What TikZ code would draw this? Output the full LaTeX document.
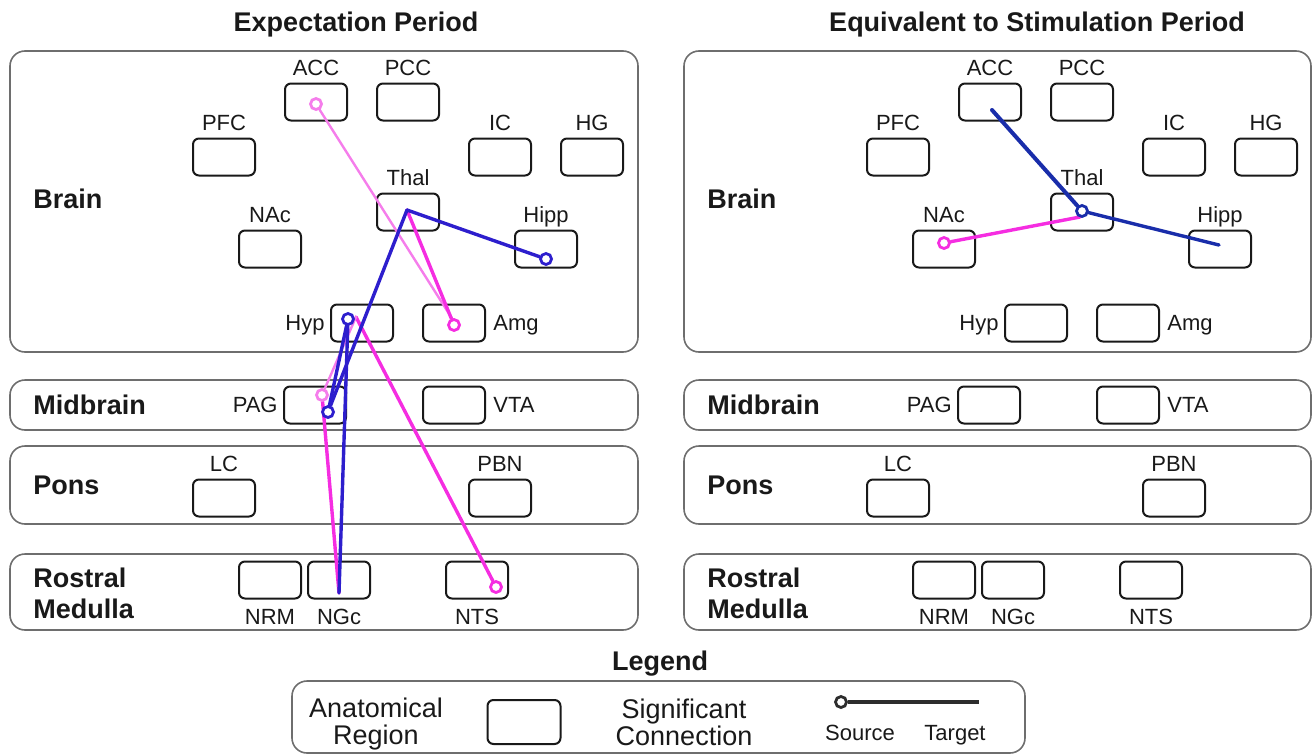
\documentclass[tikz,border=0pt]{standalone}
\usepackage{fontspec}
\setmainfont{Liberation Sans}
\definecolor{txt}{RGB}{25,25,25}
\definecolor{framegray}{RGB}{110,110,110}
\definecolor{conblue}{RGB}{45,30,205}
\definecolor{condark}{RGB}{25,45,170}
\definecolor{conmag}{RGB}{245,45,225}
\definecolor{conpink}{RGB}{245,125,235}
\definecolor{legline}{RGB}{45,45,45}
\pgfdeclarelayer{front}
\pgfsetlayers{main,front}
\tikzset{
  panel/.style={draw=framegray, line width=0.8pt, rounded corners=7.5pt},
  region/.style={draw=txt, line width=1pt, rounded corners=3pt, minimum width=31pt, minimum height=18.5pt, inner sep=0pt},
  lbl/.style={font=\fontsize{11}{13}\selectfont, inner sep=0pt, text height=7.9pt, text depth=0pt, text=txt},
  tagabove/.style={label={[lbl, yshift=3.5pt]above:#1}},
  tagbelow/.style={label={[lbl, yshift=-4.5pt]below:#1}},
  tagleft/.style={label={[lbl, xshift=-2.5pt]left:#1}},
  tagright/.style={label={[lbl, xshift=3.5pt]right:#1}},
  ttl/.style={font=\fontsize{13.5}{16}\selectfont\bfseries, inner sep=0pt, text height=9.7pt, text depth=0pt, text=txt},
  hdr/.style={ttl, anchor=west},
  hdrtwo/.style={font=\fontsize{13.5}{15.5}\selectfont\bfseries, inner sep=0pt, anchor=west, align=left, text=txt},
  legtxt/.style={font=\fontsize{13.5}{13.5}\selectfont, inner sep=0pt, align=center, text=txt},
  src/.style={circle, draw=#1, fill=white, line width=1.4pt, minimum size=5.5pt, inner sep=0pt},
  con/.style={line width=1.7pt, line cap=round},
  conlight/.style={line width=1.2pt, line cap=round}
}
\begin{document}
\begin{tikzpicture}[x=0.5pt,y=-0.5pt]
    \useasboundingbox (0,0) rectangle (1312,755);

    % titles
    \node[ttl] (eTitle) at (356,22) {Expectation Period};
    \node[ttl] (sTitle) at (1037,22) {Equivalent to Stimulation Period};

    % expectation period
    \draw[panel] (10,51) rectangle (638,352);
    \draw[panel] (10,380) rectangle (638,430);
    \draw[panel] (10,446) rectangle (638,524);
    \draw[panel] (10,554) rectangle (638,630);
    \node[hdr] (eBrain) at (33,199) {Brain};
    \node[hdr] (eMid) at (33,405) {Midbrain};
    \node[hdr] (ePons) at (33,485) {Pons};
    \node[hdrtwo] (eMed) at (33,593) {Rostral\\Medulla};

    \node[region, tagabove=ACC] (eACC) at (316,102) {};
    \node[region, tagabove=PCC] (ePCC) at (408,102) {};
    \node[region, tagabove=PFC] (ePFC) at (224,157) {};
    \node[region, tagabove=IC] (eIC) at (500,157) {};
    \node[region, tagabove=HG] (eHG) at (592,157) {};
    \node[region, tagabove=Thal] (eThal) at (408,212) {};
    \node[region, tagabove=NAc] (eNAc) at (270,249) {};
    \node[region, tagabove=Hipp] (eHipp) at (546,249) {};
    \node[region, tagleft=Hyp] (eHyp) at (362,323) {};
    \node[region, tagright=Amg] (eAmg) at (454,323) {};
    \node[region, tagleft=PAG] (ePAG) at (315,405) {};
    \node[region, tagright=VTA] (eVTA) at (454,405) {};
    \node[region, tagabove=LC] (eLC) at (224,498) {};
    \node[region, tagabove=PBN] (ePBN) at (500,498) {};
    \node[region, tagbelow=NRM] (eNRM) at (270,580) {};
    \node[region, tagbelow=NGc] (eNGc) at (339,580) {};
    \node[region, tagbelow=NTS] (eNTS) at (477,580) {};

    \coordinate (eThalT) at (407,210);
    \coordinate (eAmgT) at (453,320);
    \coordinate (eHypT) at (356,317);
    \coordinate (eNGcT) at (339,593);
    \begin{pgfonlayer}{front}
    \node[src=conpink] (eACCs) at (316,104) {};
    \node[src=conmag] (eAmgs) at (454,325) {};
    \node[src=conblue] (eHipps) at (546,259) {};
    \node[src=conblue] (eHyps) at (348,319) {};
    \node[src=conpink] (ePAGm) at (322,395) {};
    \node[src=conblue] (ePAGs) at (328,412) {};
    \node[src=conmag] (eNTSs) at (496,587) {};
    \end{pgfonlayer}

    \draw[conlight, conpink] (eACCs) -- (eAmgT);
    \draw[con, conmag] (eAmgs) -- (eThalT);
    \draw[con, conmag] (eNTSs) -- (eHypT);
    \draw[conlight, conpink] (ePAGm) -- (eHypT);
    \draw[con, conmag] (ePAGm) -- (eNGcT);
    \draw[con, conblue] (eHipps) -- (eThalT);
    \draw[con, conblue] (ePAGs) -- (eThalT);
    \draw[con, conblue] (ePAGs) -- (eHyps);
    \draw[con, conblue] (eHyps) -- (eNGcT);

    % stimulation period
    \draw[panel] (684,51) rectangle (1311,352);
    \draw[panel] (684,380) rectangle (1311,430);
    \draw[panel] (684,446) rectangle (1311,524);
    \draw[panel] (684,554) rectangle (1311,630);
    \node[hdr] (sBrain) at (707,199) {Brain};
    \node[hdr] (sMid) at (707,405) {Midbrain};
    \node[hdr] (sPons) at (707,485) {Pons};
    \node[hdrtwo] (sMed) at (707,593) {Rostral\\Medulla};

    \node[region, tagabove=ACC] (sACC) at (990,102) {};
    \node[region, tagabove=PCC] (sPCC) at (1082,102) {};
    \node[region, tagabove=PFC] (sPFC) at (898,157) {};
    \node[region, tagabove=IC] (sIC) at (1174,157) {};
    \node[region, tagabove=HG] (sHG) at (1266,157) {};
    \node[region, tagabove=Thal] (sThal) at (1082,212) {};
    \node[region, tagabove=NAc] (sNAc) at (944,249) {};
    \node[region, tagabove=Hipp] (sHipp) at (1220,249) {};
    \node[region, tagleft=Hyp] (sHyp) at (1036,323) {};
    \node[region, tagright=Amg] (sAmg) at (1128,323) {};
    \node[region, tagleft=PAG] (sPAG) at (989,405) {};
    \node[region, tagright=VTA] (sVTA) at (1128,405) {};
    \node[region, tagabove=LC] (sLC) at (898,498) {};
    \node[region, tagabove=PBN] (sPBN) at (1174,498) {};
    \node[region, tagbelow=NRM] (sNRM) at (944,580) {};
    \node[region, tagbelow=NGc] (sNGc) at (1013,580) {};
    \node[region, tagbelow=NTS] (sNTS) at (1151,580) {};

    \coordinate (sACCT) at (992,110);
    \coordinate (sHippT) at (1219,245);
    \coordinate (sThalT) at (1080,217);
    \begin{pgfonlayer}{front}
    \node[src=condark] (sThals) at (1082,211) {};
    \node[src=conmag] (sNAcs) at (944,243) {};
    \end{pgfonlayer}

    \draw[con, condark, line width=2pt] (sThals) -- (sACCT);
    \draw[con, condark] (sThals) -- (sHippT);
    \draw[con, conmag] (sNAcs) -- (sThalT);

    % legend
    \node[ttl] (legTitle) at (660,661) {Legend};
    \draw[panel] (292,681) rectangle (1025,753);
    \node[legtxt] (legA) at (376,724) {Anatomical\\Region};
    \node[region, minimum width=36.5pt, minimum height=22pt] (legBox) at (524,722) {};
    \node[legtxt] (legS) at (684,722) {Significant\\Connection};
    \coordinate (legTgt) at (979,702);
    \begin{pgfonlayer}{front}
    \node[src=legline] (legSrc) at (841,702) {};
    \end{pgfonlayer}
    \draw[line width=2pt, legline] (legSrc) -- (legTgt);
    \node[lbl] (legSrcTxt) at (860,733) {Source};
    \node[lbl] (legTgtTxt) at (955,733) {Target};
\end{tikzpicture}
\end{document}
